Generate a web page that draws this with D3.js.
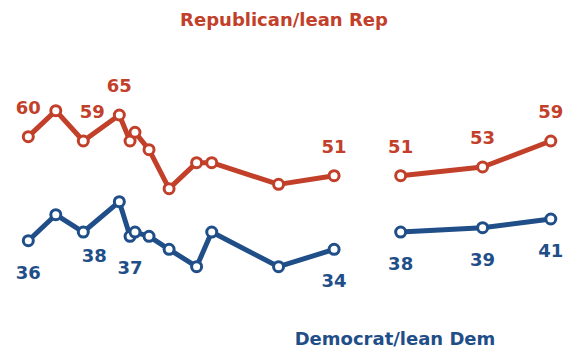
<!DOCTYPE html>
<html>
<head>
<meta charset="utf-8">
<script src="https://cdn.jsdelivr.net/npm/d3@7/dist/d3.min.js"></script>
<style>
  html, body { margin: 0; padding: 0; background: #fff; }
  svg { display: block; }
  text { font-family: "DejaVu Sans", sans-serif; font-weight: bold; }
</style>
</head>
<body>
<svg id="chart" width="564" height="351"></svg>
<script>
// Survey timing (relative position of each wave along the time axis)
const waves = [0, 1.0, 2.0, 3.31, 3.7, 3.88, 4.39, 5.12, 6.12, 6.67, 9.1, 11.12, 13.54, 16.52, 19];
// Two survey periods: the line breaks after the 12th wave
const segmentOf = [0,0,0,0,0,0,0,0,0,0,0,0,1,1,1];
const repValues = [60, 66, 59, 65, 59, 61, 57, 48, 54, 54, 49, 51, 51, 53, 59];
const demValues = [36, 42, 38, 45, 37, 38, 37, 34, 30, 38, 30, 34, 38, 39, 41];
// which waves carry a value label
const repLabelled = [0, 2, 3, 11, 12, 13, 14];
const demLabelled = [0, 2, 4, 11, 12, 13, 14];
const seriesNames = ["Republican/lean Rep", "Democrat/lean Dem"];

const RED = "#c2402a", BLUE = "#1f4e88";

const svg = d3.select("#chart");
const x = d3.scaleLinear().domain([0, 19]).range([28.3, 550.8]);
const y = d3.scaleLinear().domain([36, 65]).range([240.7, 115]);

const line = d3.line().x(d => x(d.t)).y(d => y(d.v));

function draw(values, color, labelled, labelDy, labelNudge) {
  const pts = values.map((v, i) => ({ t: waves[i], v, seg: segmentOf[i], i }));
  const segs = d3.groups(pts, d => d.seg).map(g => g[1]);
  const g = svg.append("g");
  g.selectAll("path").data(segs).join("path")
    .attr("d", line)
    .attr("fill", "none")
    .attr("stroke", color)
    .attr("stroke-width", 5)
    .attr("stroke-linejoin", "round")
    .attr("stroke-linecap", "round");
  g.selectAll("circle").data(pts).join("circle")
    .attr("cx", d => x(d.t)).attr("cy", d => y(d.v))
    .attr("r", 5)
    .attr("fill", "#fff")
    .attr("stroke", color)
    .attr("stroke-width", 3);
  g.selectAll("text").data(pts.filter(d => labelled.includes(d.i))).join("text")
    .attr("x", d => x(d.t) + ((labelNudge[d.i] || [0, 0])[0]))
    .attr("y", d => y(d.v) + labelDy + ((labelNudge[d.i] || [0, 0])[1]))
    .attr("text-anchor", "middle")
    .attr("fill", color)
    .attr("font-size", 18)
    .text(d => d.v);
}

draw(repValues, RED, repLabelled, -23, { 2: [9, 0] });
draw(demValues, BLUE, demLabelled, 38, { 2: [11, -8] });

svg.append("text").attr("x", 284).attr("y", 25.7)
  .attr("text-anchor", "middle").attr("fill", RED).attr("font-size", 18)
  .text(seriesNames[0]);
svg.append("text").attr("x", 395).attr("y", 345)
  .attr("text-anchor", "middle").attr("fill", BLUE).attr("font-size", 18)
  .text(seriesNames[1]);
</script>
</body>
</html>
